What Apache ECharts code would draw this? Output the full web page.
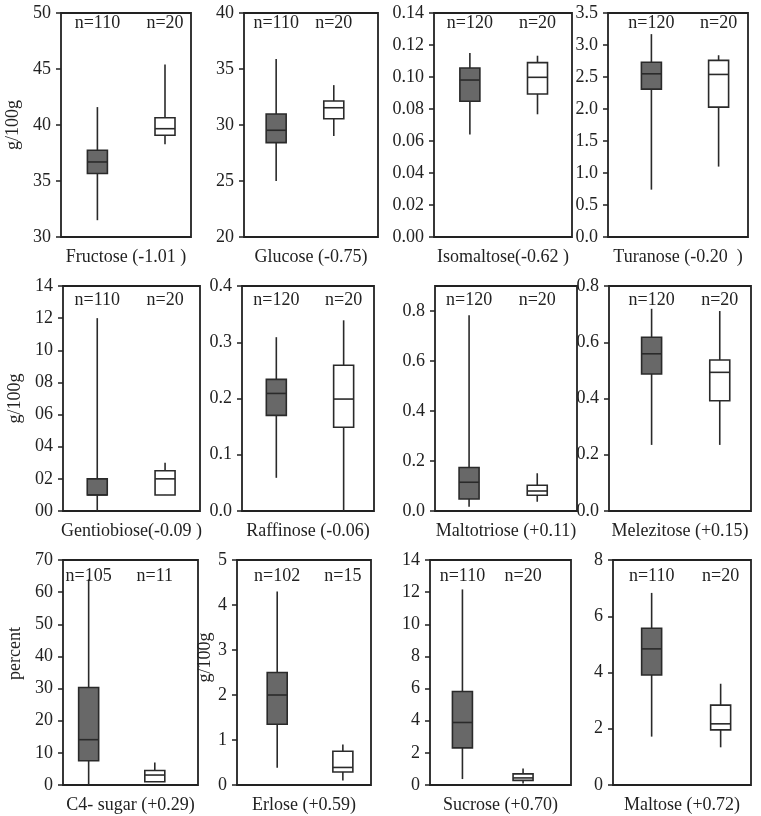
<!DOCTYPE html>
<html>
<head>
<meta charset="utf-8">
<script src="https://cdn.jsdelivr.net/npm/echarts@6/dist/echarts.min.js"></script>
<style>html,body{margin:0;padding:0;background:#fff}#c{width:761px;height:816px}</style>
</head>
<body>
<div id="c"></div>
<script>
// ---- data ----
const panelTitles = ['Fructose (-1.01 )', 'Glucose (-0.75)', 'Isomaltose(-0.62 )', 'Turanose (-0.20  )',
  'Gentiobiose(-0.09 )', 'Raffinose (-0.06)', 'Maltotriose (+0.11)', 'Melezitose (+0.15)',
  'C4- sugar (+0.29)', 'Erlose (+0.59)', 'Sucrose (+0.70)', 'Maltose (+0.72)'];
const yTitles = ['g/100g', '', '', '', 'g/100g', '', '', '', 'percent', 'g/100g', '', ''];
// [min, q1, median, q3, max]
const darkStats = [
  [31.5, 35.67, 36.7, 37.75, 41.6],
  [25.0, 28.43, 29.53, 30.98, 35.9],
  [0.064, 0.0848, 0.0981, 0.1056, 0.115],
  [0.74, 2.31, 2.55, 2.73, 3.17],
  [0, 1.0, 1.0, 2.0, 12.0],
  [0.059, 0.17, 0.209, 0.234, 0.309],
  [0.017, 0.048, 0.115, 0.174, 0.783],
  [0.235, 0.487, 0.559, 0.618, 0.719],
  [0, 7.56, 14.1, 30.34, 64.0],
  [0.385, 1.35, 2.0, 2.5, 4.3],
  [0.37, 2.31, 3.89, 5.82, 12.17],
  [1.72, 3.91, 4.84, 5.575, 6.83]
];
const whiteStats = [
  [38.28, 39.08, 39.67, 40.65, 45.4],
  [29.02, 30.56, 31.54, 32.14, 33.56],
  [0.0767, 0.0894, 0.0998, 0.109, 0.1133],
  [1.10, 2.03, 2.54, 2.76, 2.84],
  [1.0, 1.0, 2.0, 2.5, 3.0],
  [0, 0.149, 0.199, 0.259, 0.339],
  [0.037, 0.063, 0.08, 0.103, 0.151],
  [0.235, 0.392, 0.493, 0.537, 0.711],
  [1.0, 1.0, 3.1, 4.5, 7.0],
  [0.1, 0.29, 0.39, 0.75, 0.9],
  [0.1, 0.29, 0.44, 0.69, 1.02],
  [1.34, 1.96, 2.175, 2.84, 3.6]
];
const nDark = [110, 110, 120, 120, 110, 120, 120, 120, 105, 102, 110, 110];
const nWhite = [20, 20, 20, 20, 20, 20, 20, 20, 11, 15, 20, 20];
const yMin = [30, 20, 0, 0, 0, 0, 0, 0, 0, 0, 0, 0];
const yMax = [50, 40, 0.14, 3.5, 14, 0.4, 0.9, 0.8, 70, 5, 14, 8];
const yStep = [5, 5, 0.02, 0.5, 2, 0.1, 0.2, 0.2, 10, 1, 2, 2];
const yDecimals = [0, 0, 2, 1, 0, 1, 1, 1, 0, 0, 0, 0];
const yPad = [0, 0, 0, 0, 2, 0, 0, 0, 0, 0, 0, 0];

// ---- layout ----
const rowTop = [13, 286, 560];
const rowH = [224, 225, 225];
const nOffset = [10, 14, 16];
const colRects = [
  [[61, 130], [244, 134], [434, 138], [608, 140]],
  [[63, 137], [242, 132], [435, 142], [609, 142]],
  [[63, 135], [237, 134], [430, 141], [613, 138]]
];
const boxPos = [[0.28, 0.80], [0.24, 0.67], [0.26, 0.75], [0.31, 0.79],
  [0.25, 0.745], [0.26, 0.77], [0.24, 0.72], [0.30, 0.78],
  [0.19, 0.68], [0.30, 0.79], [0.23, 0.66], [0.28, 0.78]];
const yNameGap = [39, 0, 0, 0, 39, 0, 0, 0, 39, 17, 0, 0];
const yNameShift = [0, 0, 0, 0, 0, 0, 0, 0, 38, 30, 0, 0];

const FONT = 'Liberation Serif';
const INK = '#222';
const grids = [], xAxes = [], yAxes = [], series = [];

for (let i = 0; i < 12; i++) {
  const r = Math.floor(i / 4), c = i % 4;
  const [l, w] = colRects[r][c];
  grids.push({left: l, top: rowTop[r], width: w, height: rowH[r], show: true,
    borderColor: INK, borderWidth: 1.8, backgroundColor: 'transparent', containLabel: false});
  const [p0, p1] = boxPos[i];
  const span = 1 / (p1 - p0);
  const xmin = -p0 * span;
  xAxes.push({gridIndex: i, type: 'value', min: xmin, max: xmin + span, position: 'bottom',
    axisLine: {show: false, onZero: false}, axisTick: {show: false}, axisLabel: {show: false}, splitLine: {show: false},
    name: panelTitles[i], nameLocation: 'middle', nameGap: 11,
    nameTextStyle: {fontFamily: FONT, fontSize: 18, color: INK}});
  const dec = yDecimals[i], pad = yPad[i];
  const onStep = Math.abs(yMax[i] / yStep[i] - Math.round(yMax[i] / yStep[i])) < 1e-6;
  yAxes.push({gridIndex: i, type: 'value', min: yMin[i], max: yMax[i], interval: yStep[i], position: 'left',
    axisLine: {show: false, onZero: false}, splitLine: {show: false},
    axisTick: {show: true, length: 5, lineStyle: {color: INK, width: 1.5}},
    axisLabel: {margin: 10, fontFamily: FONT, fontSize: 18, color: INK, showMaxLabel: onStep,
      formatter: v => { let s = v.toFixed(dec); if (pad) s = s.padStart(pad, '0'); return s; }},
    name: yTitles[i], nameLocation: 'middle', nameRotate: 90, nameGap: yNameGap[i],
    nameTextStyle: {fontFamily: FONT, fontSize: 18, color: INK, padding: [0, 0, 0, yNameShift[i]]}});
  const data = [
    [0].concat(darkStats[i], [nDark[i], 0]),
    [1].concat(whiteStats[i], [nWhite[i], 1])
  ];
  const off = nOffset[r];
  series.push({
    type: 'custom', xAxisIndex: i, yAxisIndex: i, data: data, clip: false,
    encode: {x: 0, y: [1, 2, 3, 4, 5]},
    renderItem: function (params, api) {
      const x = api.value(0);
      const v = [1, 2, 3, 4, 5].map(k => api.value(k));
      const n = api.value(6);
      const kind = api.value(7);
      const px = api.coord([x, v[0]])[0];
      const y = val => api.coord([x, val])[1];
      const hw = 10;
      const stroke = '#2a2a2a';
      const lw = 1.6;
      return {type: 'group', children: [
        {type: 'line', shape: {x1: px, y1: y(v[0]), x2: px, y2: y(v[4])}, style: {stroke: stroke, lineWidth: lw}},
        {type: 'rect', shape: {x: px - hw, y: y(v[3]), width: 2 * hw, height: y(v[1]) - y(v[3])},
          style: {fill: kind === 0 ? '#686868' : '#ffffff', stroke: stroke, lineWidth: lw}},
        {type: 'line', shape: {x1: px - hw, y1: y(v[2]), x2: px + hw, y2: y(v[2])}, style: {stroke: stroke, lineWidth: lw}},
        {type: 'text', style: {text: 'n=' + n, x: px, y: params.coordSys.y + off, align: 'center', verticalAlign: 'middle',
          font: '18px "' + FONT + '"', fill: INK}}
      ]};
    }
  });
}

const chart = echarts.init(document.getElementById('c'), null, {renderer: 'canvas'});
chart.setOption({animation: false, backgroundColor: '#fff', grid: grids, xAxis: xAxes, yAxis: yAxes, series: series});
</script>
</body>
</html>
